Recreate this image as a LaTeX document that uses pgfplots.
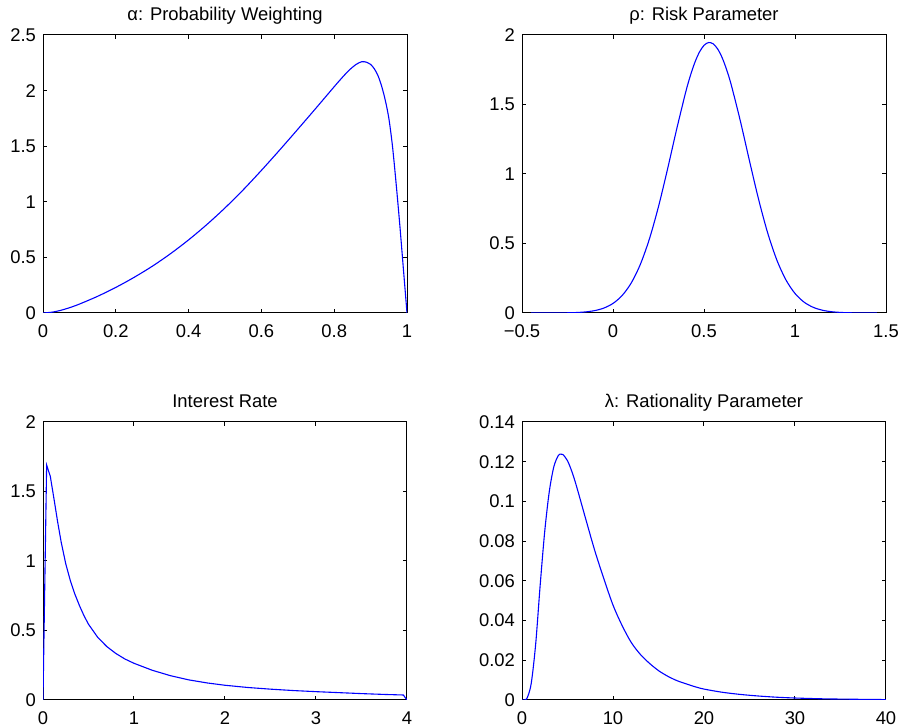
\documentclass[border=0pt]{standalone}
\usepackage{fontspec}
\setmainfont{Liberation Sans}
\usepackage{pgfplots}
\pgfplotsset{compat=1.18}
\definecolor{mblue}{RGB}{0,0,255}
\pgfplotsset{
  mat/.style={
    width=182pt, height=139pt, scale only axis,
    axis line style={line width=0.5pt},
    every tick/.style={black, line width=0.5pt},
    major tick length=1.8pt,
    tick align=inside,
    xtick pos=both, ytick pos=both,
    scaled ticks=false,
    /pgf/number format/assume math mode=true,
    tick label style={font=\fontsize{9.2}{11}\selectfont},
    xticklabel style={yshift=-2.5pt},
    every axis title/.style={font=\fontsize{9.2}{11}\selectfont, at={(0.5,1)}, anchor=base, yshift=7.3pt},
    clip=true,
  },
  every axis plot/.append style={mblue, line width=0.55pt, no marks},
}
\begin{document}
\begin{tikzpicture}[x=1pt,y=1pt]
\path[use as bounding box] (0,0) rectangle (450.5,364);

% alpha
\begin{axis}[mat, at={(21.5pt,207.5pt)}, anchor=south west,
  xmin=0, xmax=1, ymin=0, ymax=2.5,
  xtick={0,0.2,0.4,0.6,0.8,1}, xticklabels={0,0.2,0.4,0.6,0.8,1},
  ytick={0,0.5,1,1.5,2,2.5}, yticklabels={0,0.5,1,1.5,2,2.5},
  title={α: Probability Weighting}]
\addplot[smooth] coordinates {
(0,0) (0.025,0.0075) (0.05,0.025) (0.075,0.05) (0.1,0.08) (0.15,0.15)
(0.2,0.23) (0.25,0.32) (0.3,0.42) (0.35,0.5325) (0.4,0.6575) (0.45,0.795)
(0.5,0.945) (0.55,1.1075) (0.6,1.2825) (0.65,1.465) (0.7,1.6525) (0.75,1.8425)
(0.8,2.035) (0.82,2.11) (0.84,2.18) (0.86,2.235) (0.876,2.26) (0.89,2.254)
(0.9,2.236) (0.91,2.197) (0.92,2.137) (0.93,2.043) (0.94,1.918) (0.95,1.753)
(0.96,1.503) (0.97,1.168) (0.98,0.8) (0.99,0.4) (1.0,0)
};
\end{axis}

% rho
\begin{axis}[mat, at={(261pt,207.5pt)}, anchor=south west,
  xmin=-0.5, xmax=1.5, ymin=0, ymax=2,
  xtick={-0.5,0,0.5,1,1.5}, xticklabels={−0.5,0,0.5,1,1.5},
  ytick={0,0.5,1,1.5,2}, yticklabels={0,0.5,1,1.5,2},
  title={ρ: Risk Parameter}]
\addplot[smooth] coordinates {
(-0.45,0) (-0.3,0.0005) (-0.25,0.0014) (-0.2,0.0034) (-0.15,0.0079)
(-0.1,0.0173) (-0.05,0.0356) (0,0.0688) (0.05,0.1255) (0.1,0.2156)
(0.15,0.349) (0.2,0.5326) (0.25,0.7656) (0.3,1.037) (0.35,1.3235)
(0.4,1.5915) (0.425,1.7068) (0.45,1.8034) (0.475,1.8773) (0.5,1.9253)
(0.525,1.9457) (0.55,1.9368) (0.575,1.8997) (0.6,1.8359) (0.625,1.7479)
(0.65,1.6397) (0.7,1.3797) (0.75,1.094) (0.8,0.8175)
(0.85,0.5755) (0.9,0.3818) (0.95,0.2386) (1.0,0.1405) (1.05,0.078)
(1.1,0.0408) (1.15,0.0201) (1.2,0.0093) (1.25,0.0041) (1.3,0.0017)
(1.35,0.00065) (1.45,0)
};
\end{axis}

% interest rate
\begin{axis}[mat, at={(21.5pt,14pt)}, anchor=south west,
  xmin=0, xmax=4, ymin=0, ymax=2,
  xtick={0,1,2,3,4}, xticklabels={0,1,2,3,4},
  ytick={0,0.5,1,1.5,2}, yticklabels={0,0.5,1,1.5,2},
  title={Interest Rate}]
\addplot coordinates {
(0,0) (0.04,1.69) (0.08,1.61) (0.12,1.45) (0.16,1.285) (0.2,1.135)
(0.25,0.98) (0.3,0.86) (0.35,0.762) (0.4,0.68) (0.45,0.607) (0.5,0.545)
(0.6,0.452) (0.7,0.385) (0.8,0.335) (0.9,0.295) (1.0,0.264) (1.2,0.214)
(1.4,0.175) (1.6,0.145) (1.8,0.123) (2.0,0.106) (2.25,0.09) (2.5,0.078)
(2.75,0.068) (3.0,0.06) (3.25,0.053) (3.5,0.046) (3.75,0.04) (3.96,0.036) (4.0,0)
};
\end{axis}

% lambda
\begin{axis}[mat, at={(261pt,14pt)}, anchor=south west,
  xmin=0, xmax=40, ymin=0, ymax=0.14,
  xtick={0,10,20,30,40}, xticklabels={0,10,20,30,40},
  ytick={0,0.02,0.04,0.06,0.08,0.1,0.12,0.14},
  yticklabels={0,0.02,0.04,0.06,0.08,0.1,0.12,0.14},
  title={λ: Rationality Parameter}]
\addplot[smooth] coordinates {
(0,0) (0.5,0.0005) (1,0.008) (1.5,0.028) (2,0.058) (2.5,0.085)
(3,0.105) (3.5,0.1175) (4,0.1232) (4.3,0.1238) (4.5,0.1236) (5,0.1205)
(5.5,0.1148) (6,0.1075) (7,0.0912) (8,0.0752) (9,0.061) (10,0.0478)
(11,0.0375) (12,0.029) (13,0.023) (14,0.0185) (15,0.0148) (16,0.012)
(17,0.0098) (18,0.0082) (19,0.0067) (20,0.0055) (22,0.0039) (24,0.0028)
(26,0.002) (28,0.0014) (30,0.001) (33,0.0006) (36,0.0004) (40,0.0002)
};
\end{axis}
\end{tikzpicture}
\end{document}
